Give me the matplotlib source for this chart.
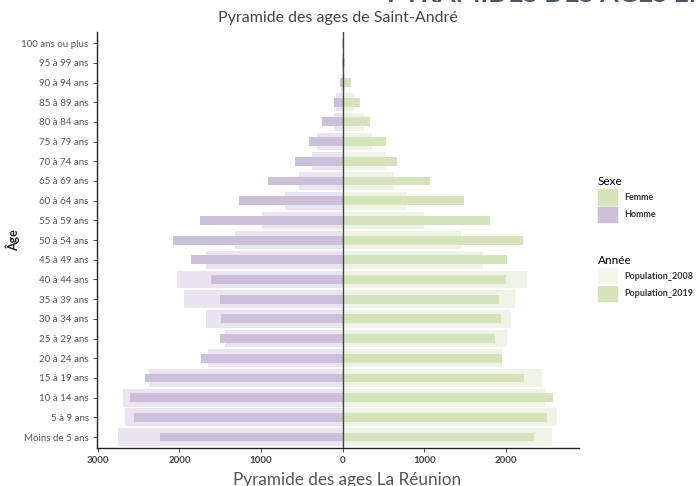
import matplotlib
matplotlib.use("Agg")
import matplotlib.pyplot as plt
from matplotlib.patches import Patch
import numpy as np

plt.rcParams['font.family'] = ['Lato', 'DejaVu Sans']

ages = ["Moins de 5 ans", "5 à 9 ans", "10 à 14 ans", "15 à 19 ans", "20 à 24 ans",
        "25 à 29 ans", "30 à 34 ans", "35 à 39 ans", "40 à 44 ans", "45 à 49 ans",
        "50 à 54 ans", "55 à 59 ans", "60 à 64 ans", "65 à 69 ans", "70 à 74 ans",
        "75 à 79 ans", "80 à 84 ans", "85 à 89 ans", "90 à 94 ans", "95 à 99 ans",
        "100 ans ou plus"]

homme_2008 = [2750, 2665, 2693, 2375, 1648, 1440, 1673, 1950, 2032, 1681,
              1322, 991, 702, 535, 375, 318, 110, 82, 20, 5, 2]
homme_2019 = [2240, 2555, 2607, 2424, 1742, 1502, 1493, 1502, 1616, 1860,
              2085, 1754, 1273, 910, 583, 412, 253, 110, 37, 12, 4]
femme_2008 = [2567, 2628, 2473, 2444, 1946, 2015, 2065, 2105, 2256, 1722,
              1444, 1000, 775, 632, 514, 355, 265, 143, 25, 8, 2]
femme_2019 = [2346, 2505, 2575, 2215, 1946, 1869, 1934, 1918, 1995, 2015,
              2211, 1808, 1485, 1065, 665, 535, 339, 216, 98, 25, 5]

x_ticks = [-3000, -2000, -1000, 0, 1000, 2000]

c_femme = "#d5e3bb"
c_homme = "#cbbfda"
c_femme_old = "#eef4e5"
c_homme_old = "#e9e4f0"

fig = plt.figure(figsize=(6.98, 4.86), dpi=100)
ax = fig.add_axes([0.139, 0.078, 0.690, 0.856])

y = np.arange(len(ages))
ax.barh(y, -np.array(homme_2008), height=0.9, color=c_homme_old, zorder=1)
ax.barh(y, femme_2008, height=0.9, color=c_femme_old, zorder=1)
ax.barh(y, -np.array(homme_2019), height=0.45, color=c_homme, zorder=2)
ax.barh(y, femme_2019, height=0.45, color=c_femme, zorder=2)
ax.axvline(0, color="#444444", lw=1.0, zorder=3)

ax.set_xlim(-3010, 2890)
ax.set_ylim(-0.56, 20.56)
ax.set_yticks(y)
ax.set_yticklabels(ages, fontsize=7, color="#555555")
ax.set_xticks(x_ticks)
ax.set_xticklabels([f"{abs(v)}" for v in x_ticks], fontsize=7, color="#444444",
                   fontweight="bold")
ax.tick_params(axis="both", length=3, width=0.6, color="#333333", pad=3)
for s in ["top", "right"]:
    ax.spines[s].set_visible(False)
for s in ["left", "bottom"]:
    ax.spines[s].set_color("#222222")
    ax.spines[s].set_linewidth(1.0)
ax.set_ylabel("Âge", fontsize=9, fontweight="bold", color="#222222", labelpad=1)

fig.text(0.484, 0.963, "Pyramide des ages de Saint-André", ha="center", va="center",
         fontsize=11.5, color="#444444")
fig.text(0.555, 1.012, "PYRAMIDES DES AGES EN 2019", ha="left", va="center",
         fontsize=19, fontweight="bold", color="#4a5561")
fig.text(0.497, 0.012, "Pyramide des ages La Réunion", ha="center", va="center",
         fontsize=12.3, color="#555555")

legend_kw = dict(loc="upper left", frameon=False, fontsize=6.5, title_fontsize=8.5,
                 handlelength=2.1, handleheight=2.2, handletextpad=0.9,
                 labelspacing=0.25, alignment="left", borderaxespad=0)

leg1 = fig.legend(handles=[Patch(color=c_femme, label="Femme"),
                           Patch(color=c_homme, label="Homme")],
                  title="Sexe", bbox_to_anchor=(0.851, 0.645), **legend_kw)
leg2 = fig.legend(handles=[Patch(color="#f1f6ec", label="Population_2008"),
                           Patch(color=c_femme, label="Population_2019")],
                  title="Année", bbox_to_anchor=(0.851, 0.483), **legend_kw)
for leg in (leg1, leg2):
    for t in leg.get_texts():
        t.set_fontweight("bold")
        t.set_color("#333333")

fig.savefig("out.png", dpi=100)
